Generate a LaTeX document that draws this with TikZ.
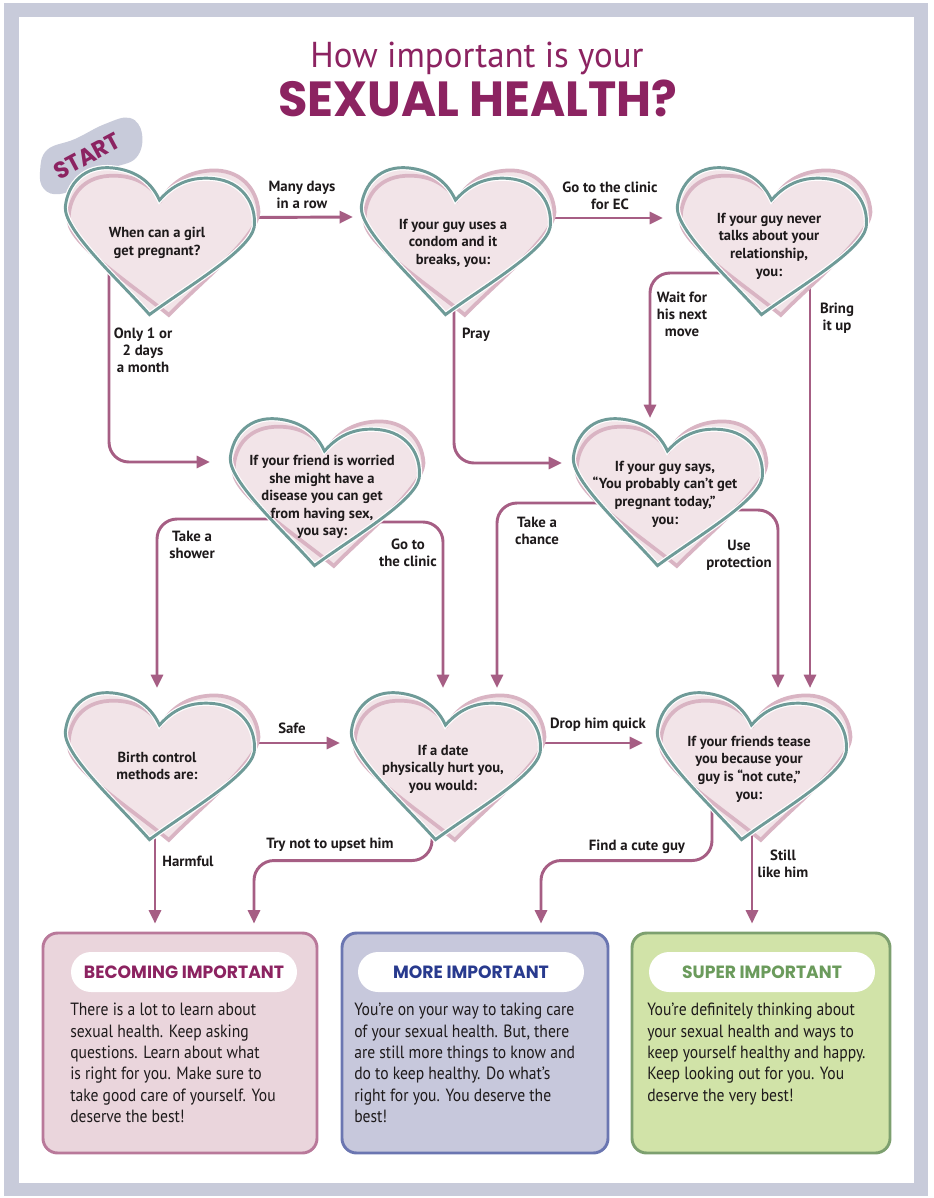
\documentclass[tikz,border=0pt]{standalone}
\usepackage{fontspec}
\setmainfont{PT Sans}
\newfontfamily\condfont{PT Sans}[FakeStretch=0.97]
\newfontfamily\bodyfont{PT Sans}[FakeStretch=0.88]
\newfontfamily\comicfont{Poppins}[FakeStretch=0.97]
\usepackage{xcolor}
\usepackage{tikz}
\usetikzlibrary{arrows.meta,calc,backgrounds}

\definecolor{framegray}{HTML}{C8CBDA}
\definecolor{titlec}{HTML}{8C2361}
\definecolor{heartfill}{HTML}{F2E4E8}
\definecolor{heartpink}{HTML}{D9B4C3}
\definecolor{heartteal}{HTML}{6F9B98}
\definecolor{flowc}{HTML}{A65E84}
\definecolor{inkc}{HTML}{1E1A1B}
\definecolor{pinkbox}{HTML}{EAD5DC}
\definecolor{pinkedge}{HTML}{B9799A}
\definecolor{bluebox}{HTML}{C7C8DC}
\definecolor{blueedge}{HTML}{6B76B1}
\definecolor{bluetext}{HTML}{283A8E}
\definecolor{greenbox}{HTML}{D1E3A8}
\definecolor{greenedge}{HTML}{7DA06F}
\definecolor{greentext}{HTML}{6B9B5C}

\newcommand{\heartshape}{(-2,-43) .. controls (-14,-63) and (-32,-70) .. (-52,-70)
  .. controls (-80,-70) and (-95,-50) .. (-95,-26)
  .. controls (-93,-2) and (-35,40) .. (0,72)
  .. controls (35,40) and (93,-2) .. (95,-26)
  .. controls (95,-50) and (78,-70) .. (50,-70)
  .. controls (30,-70) and (12,-63) .. (-2,-43) -- cycle}

\tikzset{
  pics/lovebox/.style={code={
    \fill[heartfill,shift={(8,0)},rotate=-3] \heartshape;
    \fill[heartfill,rotate=6] \heartshape;
    \draw[heartpink,line width=2.8pt,shift={(8,0)},rotate=-3] \heartshape;
    \draw[white,line width=4pt,rotate=6] \heartshape;
    \draw[heartteal,line width=2.2pt,rotate=6] \heartshape;
  }},
  heartnode/.style={inner sep=0pt,align=center,
    text=inkc,font=\bfseries\fontsize{10.9}{13.2}\selectfont},
  lbl/.style={inner sep=0pt,align=center,text=inkc,font=\bfseries\fontsize{11.1}{12.8}\selectfont},
  flow/.style={draw=flowc,line width=2.2pt,rounded corners=15pt,-{Triangle[length=10pt,width=9pt]}},
  resultbox/.style={rounded corners=11pt,line width=2.2pt,minimum height=165pt},
  tagbox/.style={fill=white,rounded corners=15pt,minimum width=169.5pt,minimum height=30pt,
    font=\comicfont\bfseries\fontsize{13.3}{15}\selectfont},
  bodytext/.style={anchor=north west,inner sep=0pt,align=left,text=inkc,
    font=\bodyfont\fontsize{13.3}{16}\selectfont}
}

\begin{document}
\begin{tikzpicture}[x=0.75pt,y=0.75pt,yscale=-1,xscale=1]

\useasboundingbox (0,0) rectangle (933,1198);

\begin{scope}[on background layer]
\fill[white] (0,0) rectangle (933,1198);
\fill[framegray] (4,3) rectangle (928,1196);
\fill[white] (19,17) rectangle (914,1183);
\end{scope}

\node[anchor=base,text=titlec,font=\condfont\fontsize{27}{30}\selectfont] (title) at (477,68) {How important is your};

\node[anchor=base,text=titlec,font=\comicfont\bfseries\fontsize{37}{40}\selectfont] (subtitle) at (478,117) {SEXUAL HEALTH?};

\fill[framegray] plot[smooth cycle,tension=0.7] coordinates {(40,172) (47,150) (75,139) (105,124) (130,118) (142,134) (136,158) (110,169) (85,184) (60,194) (44,189)};

\foreach \hx/\hy in {157/243,453/243,769/243,322/494,665/494,157/768,443/768,749/768}
  \pic[transform shape] at (\hx,\hy) {lovebox};

\node[rotate=28,text=titlec,font=\comicfont\bfseries\fontsize{17.5}{18}\selectfont] (start) at (87,156) {START};

\node[heartnode] (girl) at (157,243) {When can a girl\\get pregnant?};

\node[heartnode] (condom) at (453,243) {If your guy uses a\\condom and it\\breaks, you:};

\node[heartnode] (relation) at (769,246) {If your guy never\\talks about your\\relationship,\\you:};

\node[heartnode] (friend) at (322,497) {If your friend is worried\\she might have a\\disease you can get\\from having sex,\\you say:};

\node[heartnode] (pregnant) at (665,494) {If your guy says,\\“You probably can’t get\\pregnant today,”\\you:};

\node[heartnode] (birth) at (157,766) {Birth control\\methods are:};

\node[heartnode] (date) at (443,769) {If a date\\physically hurt you,\\you would:};

\node[heartnode] (tease) at (749,769) {If your friends tease\\you because your\\guy is “not cute,”\\you:};

\node[resultbox,fill=pinkbox,draw=pinkedge,minimum width=205.5pt] (becoming) at (180,1043) {};

\node[resultbox,fill=bluebox,draw=blueedge,minimum width=199.5pt] (more) at (475,1043) {};

\node[resultbox,fill=greenbox,draw=greenedge,minimum width=193.5pt] (super) at (761,1043) {};

\node[tagbox,text=titlec] (becomingtag) at (184,972) {BECOMING IMPORTANT};

\node[tagbox,text=bluetext] (moretag) at (471,972) {MORE IMPORTANT};

\node[tagbox,text=greentext] (supertag) at (762,972) {SUPER IMPORTANT};

\node[bodytext] (becomingtext) at (70,1003) {There is a lot to learn about\\sexual health. Keep asking\\questions. Learn about what\\is right for you. Make sure to\\take good care of yourself. You\\deserve the best!};

\node[bodytext] (moretext) at (354,1003) {You’re on your way to taking care\\of your sexual health. But, there\\are still more things to know and\\do to keep healthy. Do what’s\\right for you. You deserve the\\best!};

\node[bodytext] (supertext) at (647,1003) {You’re definitely thinking about\\your sexual health and ways to\\keep yourself healthy and happy.\\Keep looking out for you. You\\deserve the very best!};

\node[lbl] (lManyDays) at (302,195) {Many days\\in a row};
\node[lbl] (lClinicEC) at (610,196) {Go to the clinic\\for EC};
\node[lbl] (lOneTwo) at (143,350) {Only 1 or\\2 days\\a month};
\node[lbl] (lPray) at (476,335) {Pray};
\node[lbl] (lWait) at (682,314) {Wait for\\his next\\move};
\node[lbl] (lBring) at (837,318) {Bring\\it up};
\node[lbl] (lUse) at (739,555) {Use\\protection};
\node[lbl] (lChance) at (537,531) {Take a\\chance};
\node[lbl] (lShower) at (192,545) {Take a\\shower};
\node[lbl] (lClinic) at (408,553) {Go to\\the clinic};
\node[lbl] (lSafe) at (292,728) {Safe};
\node[lbl] (lDrop) at (598,725) {Drop him quick};
\node[lbl] (lHarmful) at (188,861) {Harmful};
\node[lbl] (lUpset) at (330,845) {Try not to upset him};
\node[lbl] (lCute) at (637,847) {Find a cute guy};
\node[lbl] (lStill) at (783,864) {Still\\like him};

\begin{scope}[on background layer]
\draw[flow] ($(girl.center)+(0,-25)$) -- ($(condom.center)+(-100,-26)$);
\draw[flow] ($(condom.center)+(0,-25)$) -- ($(relation.center)+(-106,-28)$);
\draw[flow] ($(girl.center)+(-48,0)$) |- ($(friend.center)+(-112,-35)$);
\draw[flow] ($(condom.center)+(1,0)$) |- ($(pregnant.center)+(-103,-31)$);
\draw[flow] ($(relation.center)+(-40,27)$) -| ($(pregnant.center)+(-15,-76)$);
\draw[flow] ($(relation.center)+(41,0)$) -- ($(tease.center)+(61,-81)$);
\draw[flow] ($(pregnant.center)+(40,16)$) -| ($(tease.center)+(29,-81)$);
\draw[flow] ($(pregnant.center)+(-40,9)$) -| ($(date.center)+(54,-81)$);
\draw[flow] ($(friend.center)+(-50,22)$) -| ($(birth.center)+(0,-78)$);
\draw[flow] ($(friend.center)+(50,25)$) -| ($(date.center)+(0,-81)$);
\draw[flow] ($(birth.center)+(0,-23)$) -- ($(date.center)+(-103,-26)$);
\draw[flow] ($(date.center)+(0,-26)$) -- ($(tease.center)+(-106,-26)$);
\draw[flow] ($(birth.center)+(-2,0)$) -- ($(becoming.north)+(-25,-8)$);
\draw[flow] ($(date.center)+(-11,0)$) |- ($(becoming.north)+(74,-71)$) -- ($(becoming.north)+(74,-8)$);
\draw[flow] ($(tease.center)+(-37,0)$) |- ($(more.north)+(66,-71)$) -- ($(more.north)+(66,-8)$);
\draw[flow] ($(tease.center)+(3,0)$) -- ($(super.north)+(-9,-8)$);
\end{scope}

\end{tikzpicture}
\end{document}
